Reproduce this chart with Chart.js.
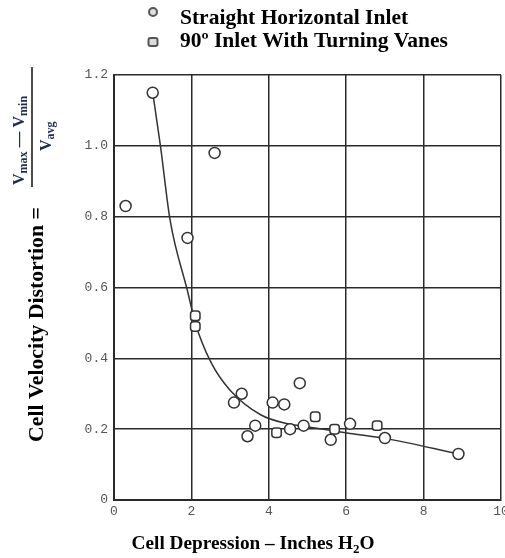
<!DOCTYPE html>
<html>
<head>
<meta charset="utf-8">
<script src="https://cdn.jsdelivr.net/npm/chart.js@4.4.1/dist/chart.umd.min.js"></script>
<style>
  body { margin: 0; background: #fff; }
  #wrap { width: 505px; height: 558px; position: relative; }
</style>
</head>
<body>
<div id="wrap"><canvas id="distortion"></canvas></div>
<script>
// cell depression (in. H2O) vs. velocity distortion
const straightX = [0.3, 1.0, 1.9, 2.6, 3.1, 3.3, 3.45, 3.65, 4.1, 4.4, 4.55, 4.8, 4.9, 5.6, 6.1, 7.0, 8.9];
const straightY = [0.83, 1.15, 0.74, 0.98, 0.275, 0.30, 0.18, 0.21, 0.275, 0.27, 0.20, 0.33, 0.21, 0.17, 0.215, 0.175, 0.13];

const vanesX = [2.1, 2.1, 4.2, 5.2, 5.7, 6.8];
const vanesY = [0.52, 0.49, 0.19, 0.235, 0.20, 0.21];

// faired curve through the data
const fitX = [1.0, 1.2, 1.45, 1.9, 2.1, 2.5, 3.0, 3.8, 4.5, 5.1, 6.1, 7.0, 8.9];
const fitY = [1.15, 1.0, 0.79, 0.59, 0.5, 0.39, 0.31, 0.24, 0.215, 0.205, 0.188, 0.174, 0.13];

const xTicks = [0, 2, 4, 6, 8, 10];
const yTicks = [0, 0.2, 0.4, 0.6, 0.8, 1.0, 1.2];

const legendLabels = ['Straight Horizontal Inlet', '90\u00ba Inlet With Turning Vanes'];

function pairs(xs, ys) {
    let out = [];
    for (let i = 0; i < xs.length; i++) {
        out.push({x: xs[i], y: ys[i]});
    }
    return out;
}

const SERIF = '"Liberation Serif", "Times New Roman", serif';
const INK = '#333';

// draws runs of text going upward, starting at screen (sx, sy)
function upText(ctx, runs, sx, sy) {
    ctx.save();
    ctx.translate(sx, sy);
    ctx.rotate(-Math.PI / 2);
    ctx.textAlign = 'left';
    ctx.textBaseline = 'alphabetic';
    let pos = 0;
    for (const r of runs) {
        ctx.font = r.font;
        ctx.fillStyle = r.color || '#000';
        ctx.fillText(r.text, pos, r.dy || 0);
        pos += ctx.measureText(r.text).width;
    }
    ctx.restore();
}

const annotations = {
    id: 'annotations',
    afterDraw(chart) {
        const ctx = chart.ctx;
        ctx.save();

        // legend
        const lx = 153;
        ctx.lineWidth = 2;
        ctx.strokeStyle = '#555';
        ctx.fillStyle = '#ddd';
        ctx.beginPath();
        ctx.arc(lx, 12, 4, 0, Math.PI * 2);
        ctx.fill();
        ctx.stroke();
        ctx.beginPath();
        ctx.roundRect(lx - 4.5, 38, 9, 8, 2);
        ctx.fill();
        ctx.stroke();

        ctx.fillStyle = '#000';
        ctx.font = 'bold 21.5px ' + SERIF;
        ctx.textBaseline = 'alphabetic';
        ctx.textAlign = 'left';
        ctx.fillText(legendLabels[0], 180, 24);
        ctx.fillText(legendLabels[1], 180, 47);

        // x axis title with subscript
        const big = 'bold 19.3px ' + SERIF;
        const small = 'bold 13px ' + SERIF;
        const parts = [
            {text: 'Cell Depression \u2013 Inches H', font: big, dy: 0},
            {text: '2', font: small, dy: 4},
            {text: 'O', font: big, dy: 0}
        ];
        let total = 0;
        for (const p of parts) { ctx.font = p.font; total += ctx.measureText(p.text).width; }
        let px = 253 - total / 2;
        for (const p of parts) {
            ctx.font = p.font;
            ctx.fillText(p.text, px, 549 + p.dy);
            px += ctx.measureText(p.text).width;
        }

        // y axis title
        upText(ctx, [{text: 'Cell Velocity Distortion =', font: 'bold 21.8px ' + SERIF}], 43, 442);

        // (Vmax - Vmin) / Vavg
        const fc = '#1f2d4f';
        const fv = 'bold 16px ' + SERIF;
        const fs = 'bold 12px ' + SERIF;
        upText(ctx, [
            {text: 'V', font: fv, color: fc},
            {text: 'max', font: fs, color: fc, dy: 3},
            {text: ' \u2014 ', font: fv, color: fc},
            {text: 'V', font: fv, color: fc},
            {text: 'min', font: fs, color: fc, dy: 3}
        ], 24, 185);
        upText(ctx, [
            {text: 'V', font: fv, color: fc},
            {text: 'avg', font: fs, color: fc, dy: 3}
        ], 51, 151);
        ctx.strokeStyle = '#111';
        ctx.lineWidth = 1.5;
        ctx.beginPath();
        ctx.moveTo(32, 67);
        ctx.lineTo(32, 187);
        ctx.stroke();

        ctx.restore();
    }
};

const ctx = document.getElementById('distortion').getContext('2d');
const chart = new Chart(ctx, {
    type: 'scatter',
    data: {
        datasets: [{
            label: legendLabels[0],
            data: pairs(straightX, straightY),
            pointStyle: 'circle',
            pointRadius: 5.5,
            backgroundColor: '#fff',
            borderColor: INK,
            borderWidth: 1.5
        }, {
            label: legendLabels[1],
            data: pairs(vanesX, vanesY),
            pointStyle: 'rectRounded',
            pointRadius: 5.5,
            backgroundColor: '#fff',
            borderColor: INK,
            borderWidth: 1.5
        }, {
            label: 'fit',
            data: pairs(fitX, fitY),
            showLine: true,
            pointRadius: 0,
            borderColor: INK,
            borderWidth: 1.5,
            cubicInterpolationMode: 'monotone',
            fill: false
        }]
    },
    options: {
        responsive: true,
        maintainAspectRatio: false,
        animation: false,
        layout: {
            autoPadding: false,
            padding: {top: 75, right: 4, left: 0, bottom: 0}
        },
        scales: {
            x: {
                type: 'linear',
                min: 0,
                max: 10,
                afterBuildTicks: function(scale) {
                    scale.ticks = xTicks.map(v => ({value: v}));
                },
                afterFit: function(scale) {
                    // let the "10" label hang past the right edge
                    scale.height = 58;
                    scale.paddingRight = 0;
                },
                grid: {
                    color: '#2a2a2a',
                    lineWidth: 1.5,
                    drawTicks: false
                },
                border: {color: '#2a2a2a', width: 2},
                ticks: {
                    padding: 4,
                    color: '#555',
                    font: {family: '"Liberation Mono", monospace', size: 13},
                    callback: function(value) { return String(value); }
                }
            },
            y: {
                type: 'linear',
                min: 0,
                max: 1.2,
                afterBuildTicks: function(scale) {
                    scale.ticks = yTicks.map(v => ({value: v}));
                },
                afterFit: function(scale) {
                    scale.width = 114;
                },
                grid: {
                    color: '#2a2a2a',
                    lineWidth: 1.5,
                    drawTicks: false
                },
                border: {color: '#2a2a2a', width: 2},
                ticks: {
                    padding: 6,
                    color: '#555',
                    font: {family: '"Liberation Mono", monospace', size: 13},
                    callback: function(value) {
                        return value === 0 ? '0' : value.toFixed(1);
                    }
                }
            }
        },
        plugins: {
            legend: {display: false},
            tooltip: {enabled: false}
        }
    },
    plugins: [annotations]
});
</script>
</body>
</html>
